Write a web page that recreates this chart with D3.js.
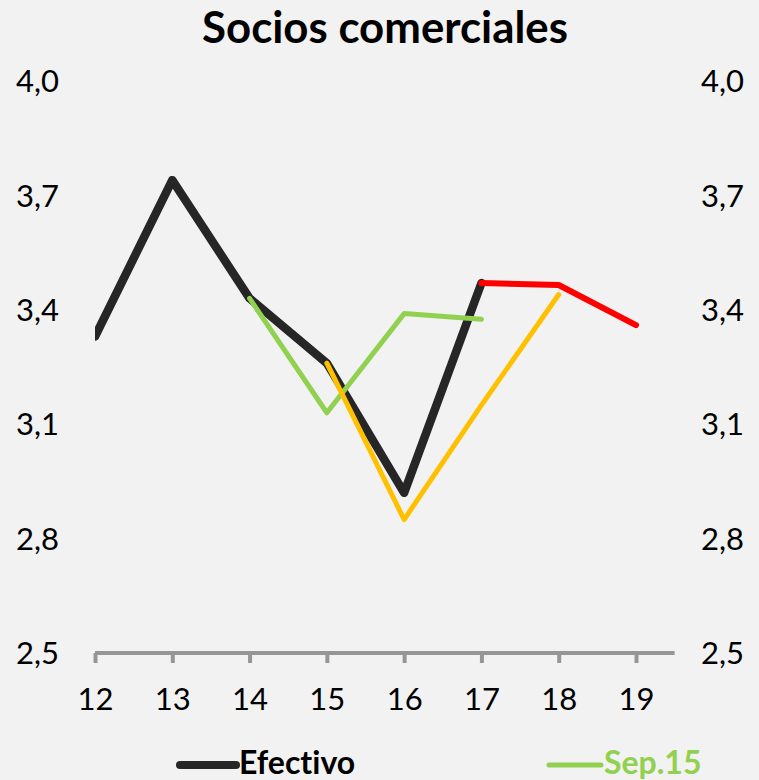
<!DOCTYPE html>
<html>
<head>
<meta charset="utf-8">
<script src="https://cdn.jsdelivr.net/npm/d3@7"></script>
<style>
html,body{margin:0;padding:0;background:#F2F2F2;}
svg{display:block;font-family:Lato,"Open Sans",sans-serif;font-variant-ligatures:none;}
text{font-variant-ligatures:none;font-feature-settings:"liga" 0,"dlig" 0;}
</style>
</head>
<body>
<svg id="chart" width="759" height="780"></svg>
<script>
const title = "Socios comerciales";
const categories = [12, 13, 14, 15, 16, 17, 18, 19];
const yTicks = [2.5, 2.8, 3.1, 3.4, 3.7, 4.0];
const efectivo = [3.33, 3.74, 3.43, 3.26, 2.92, 3.47, null, null];
const sep15 = [null, null, 3.43, 3.13, 3.39, 3.375, null, null];
const orangeSeries = [null, null, null, 3.26, 2.85, 3.15, 3.44, null];
const redSeries = [null, null, null, null, null, 3.47, 3.465, 3.36];
const legendLabels = ["Efectivo", "Sep.15"];

const svg = d3.select("#chart");
svg.append("rect").attr("width", 759).attr("height", 780).attr("fill", "#F2F2F2");

const x = d3.scalePoint().domain(categories).range([95, 636]);
const step = x.step();
const y = d3.scaleLinear().domain([2.5, 4.0]).range([653, 81]);
const fmt = v => d3.format(".1f")(v).replace(".", ",");

// Title
const t = svg.append("text").attr("x", 385).attr("y", 43)
  .attr("text-anchor", "middle").attr("font-weight", "bold")
  .attr("font-size", 36).attr("fill", "#000").text(title);
const tw = t.node().getComputedTextLength();
t.attr("font-size", 36 * 366 / tw);

// Y labels left and right
const yl = svg.append("g");
yl.selectAll("text.l").data(yTicks).join("text").attr("class", "l")
  .attr("x", 59).attr("y", d => y(d)).attr("dy", "0.36em")
  .attr("text-anchor", "end").attr("font-size", 31).attr("fill", "#000")
  .text(fmt);
yl.selectAll("text.r").data(yTicks).join("text").attr("class", "r")
  .attr("x", 701).attr("y", d => y(d)).attr("dy", "0.36em")
  .attr("text-anchor", "start").attr("font-size", 31).attr("fill", "#000")
  .text(fmt);

// X axis
const xAxis = d3.axisBottom(x).tickSize(10).tickSizeOuter(0).tickPadding(25);
const gx = svg.append("g").attr("transform", `translate(0,${y(2.5)})`).call(xAxis);
gx.select(".domain").attr("d", `M${x(12)},0H${x(19) + step / 2}`)
  .attr("stroke", "#969696").attr("stroke-width", 4);
gx.selectAll(".tick line").attr("stroke", "#969696").attr("stroke-width", 4);
gx.selectAll(".tick text").attr("font-size", 31).attr("fill", "#000")
  .attr("font-family", "Lato, 'Open Sans', sans-serif").attr("dy", "0.71em");

// Lines
const line = d3.line().defined(d => d.v != null).x(d => x(d.c)).y(d => y(d.v));
const mk = arr => categories.map((c, i) => ({c, v: arr[i]}));
const series = [
  {data: efectivo, color: "#262626", w: 8.5},
  {data: sep15, color: "#92D050", w: 5},
  {data: orangeSeries, color: "#FFC000", w: 5},
  {data: redSeries, color: "#FF0000", w: 6}
];
const plot = svg.append("g");
plot.append("clipPath").attr("id", "clip").append("rect")
  .attr("x", x(12)).attr("y", 0).attr("width", 700).attr("height", 780);
series.forEach(s => {
  plot.append("path").datum(mk(s.data))
    .attr("d", line).attr("fill", "none")
    .attr("stroke", s.color).attr("stroke-width", s.w)
    .attr("stroke-linejoin", "round").attr("stroke-linecap", "round")
    .attr("clip-path", "url(#clip)");
});

// Legend
const legend = [
  {label: legendLabels[0], color: "#262626", tcolor: "#000", x1: 180, x2: 236, w: 8, tx: 239, tw: 123},
  {label: legendLabels[1], color: "#92D050", tcolor: "#92D050", x1: 549, x2: 601, w: 5, tx: 604, tw: 103}
];
const lg = svg.append("g");
legend.forEach(l => {
  lg.append("line").attr("x1", l.x1).attr("x2", l.x2).attr("y1", 765).attr("y2", 765)
    .attr("stroke", l.color).attr("stroke-width", l.w).attr("stroke-linecap", "round");
  const tt = lg.append("text").attr("x", l.tx).attr("y", 774).attr("font-size", 30)
    .attr("font-weight", "bold").attr("fill", l.tcolor).text(l.label);
  const w = tt.node().getComputedTextLength();
  tt.attr("font-size", Math.min(32, 30 * l.tw / w));
});
</script>
</body>
</html>
